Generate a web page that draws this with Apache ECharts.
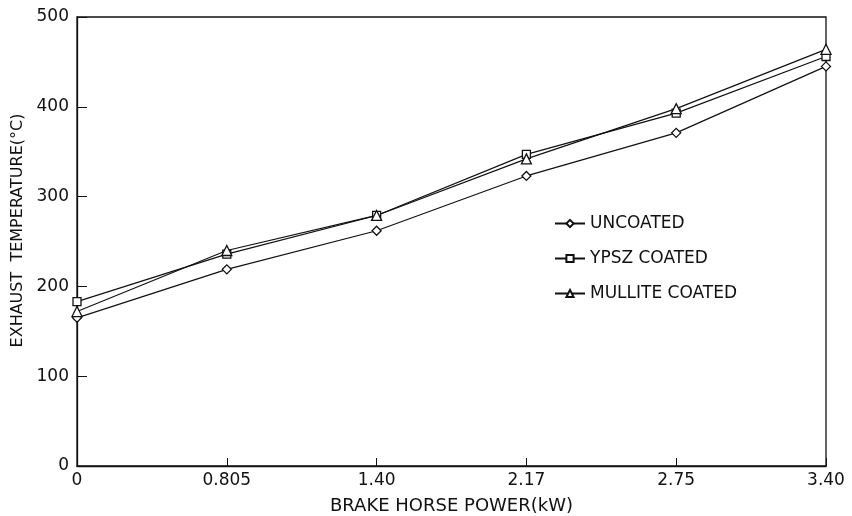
<!DOCTYPE html>
<html>
<head>
<meta charset="utf-8">
<script src="https://cdn.jsdelivr.net/npm/echarts@6/dist/echarts.min.js"></script>
<style>
  html, body { margin: 0; padding: 0; background: #fff; }
  #chart { width: 852px; height: 516px; }
</style>
</head>
<body>
<div id="chart"></div>
<script>
const powers = ['0', '0.805', '1.40', '2.17', '2.75', '3.40']
const uncoated = [165, 219, 262, 323, 371, 445]
const ypsz = [183, 236, 279, 347, 393, 456]
const mullite = [172, 240, 279, 342, 398, 464]

const FONT = 'DejaVu Sans'
const INK = '#111'

function lineSeries(name, data, symbol, size) {
  return {
    name,
    type: 'line',
    data,
    symbol,
    symbolSize: size,
    showAllSymbol: true,
    lineStyle: { color: INK, width: 1.2 },
    itemStyle: { color: '#fff', borderColor: INK, borderWidth: 1.3 },
    emphasis: { disabled: true },
  }
}

const chart = echarts.init(document.getElementById('chart'))
chart.setOption({
  animation: false,
  grid: {
    left: 77, right: 26, top: 17, bottom: 50,
    outerBoundsMode: 'none',
    show: true, borderColor: INK, borderWidth: 1.3,
  },
  legend: {
    orient: 'vertical',
    left: 549,
    top: 210,
    itemGap: 18,
    itemWidth: 30,
    itemHeight: 9,
    textStyle: { fontFamily: FONT, fontSize: 17, color: INK },
    data: ['UNCOATED', 'YPSZ COATED', 'MULLITE COATED'],
  },
  xAxis: {
    type: 'category',
    data: powers,
    boundaryGap: false,
    name: 'BRAKE HORSE POWER(kW)',
    nameLocation: 'middle',
    nameGap: 31,
    nameTextStyle: { fontFamily: FONT, fontSize: 18, color: INK },
    axisLine: { lineStyle: { color: INK, width: 1.3 } },
    axisTick: { inside: true, length: 8, alignWithLabel: true, lineStyle: { color: INK } },
    axisLabel: { fontFamily: FONT, fontSize: 17, color: INK, margin: 6 },
    splitLine: { show: false },
  },
  yAxis: {
    type: 'value',
    min: 0,
    max: 500,
    interval: 100,
    name: 'EXHAUST  TEMPERATURE(°C)',
    nameLocation: 'middle',
    nameGap: 41,
    nameTextStyle: { fontFamily: FONT, fontSize: 16, color: INK, padding: [0, 0, 0, 22] },
    axisLine: { show: true, lineStyle: { color: INK, width: 1.3 } },
    axisTick: { show: true, inside: true, length: 10, lineStyle: { color: INK } },
    axisLabel: { fontFamily: FONT, fontSize: 17, color: INK, margin: 8 },
    splitLine: { show: false },
  },
  series: [
    lineSeries('UNCOATED', uncoated, 'diamond', 9),
    lineSeries('YPSZ COATED', ypsz, 'rect', 8),
    lineSeries('MULLITE COATED', mullite, 'triangle', 10),
  ],
})
</script>
</body>
</html>
